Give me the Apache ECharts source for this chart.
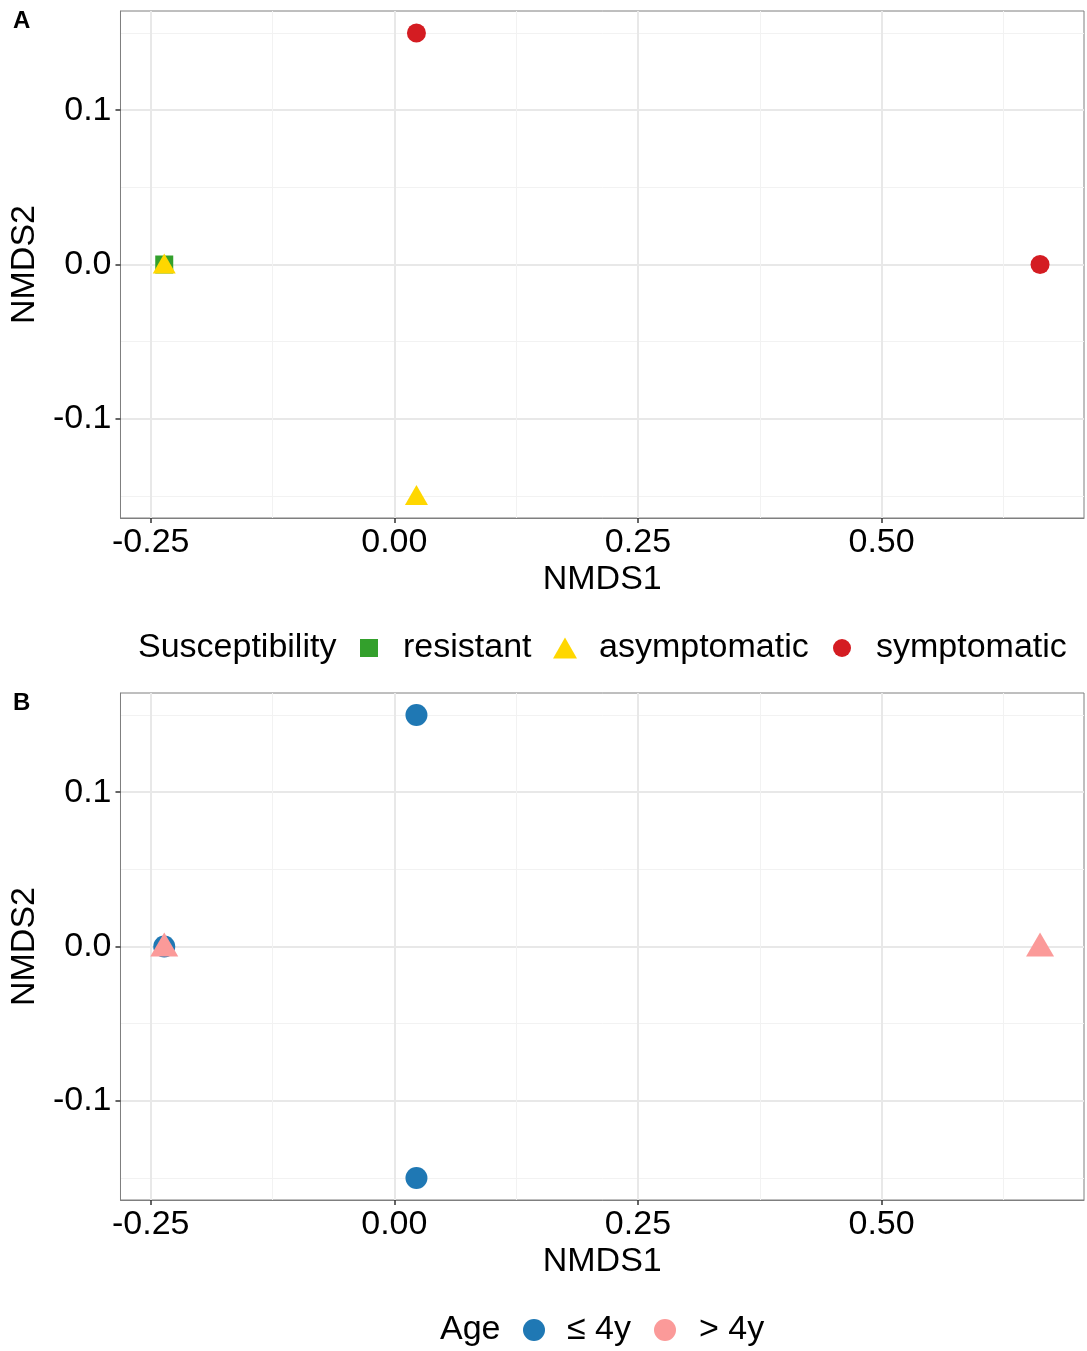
<!DOCTYPE html>
<html>
<head>
<meta charset="utf-8">
<script src="https://cdn.jsdelivr.net/npm/echarts@6/dist/echarts.min.js"></script>
<style>
html,body{margin:0;padding:0;background:#fff;}
#chart{width:1087px;height:1351px;}
</style>
</head>
<body>
<div id="chart"></div>
<script>
// ---- data ----
const xMajor = [-0.25, 0, 0.25, 0.5];
const xMajorLabels = ['-0.25', '0.00', '0.25', '0.50'];
const xMinor = [-0.125, 0.125, 0.375, 0.625];
const yMajor = [-0.1, 0, 0.1];
const yMajorLabels = ['-0.1', '0.0', '0.1'];
const yMinor = [-0.15, -0.05, 0.05, 0.15];

// Panel A: Susceptibility
const resistantA = [[-0.2361, 0.0]];
const asymptomaticA = [[-0.2361, 0.0], [0.0227, -0.15]];
const symptomaticA = [[0.0227, 0.15], [0.6626, 0.0]];

// Panel B: Age
const ageYoungB = [[0.0227, 0.15], [0.0227, -0.15], [-0.2361, 0.0]];
const ageOldB = [[-0.2361, 0.0], [0.6626, 0.0]];

const xRange = [-0.281, 0.7077];
const yRange = [-0.1643, 0.1643];

// ---- styles ----
const FONT = 'Liberation Sans, Arial, sans-serif';
const FS = 34;
const TXT = '#000000';
const BORDER = '#7f7f7f';
const C_RES = '#33a02c', C_ASY = '#ffd700', C_SYM = '#d41c22';
const C_YOUNG = '#1f78b4', C_OLD = '#fb9a99';

const chart = echarts.init(document.getElementById('chart'), null, {renderer: 'canvas'});

function xAxesFor(gi) {
  return [
    { // major
      type: 'value', gridIndex: gi, min: xRange[0], max: xRange[1],
      name: 'NMDS1', nameLocation: 'middle', nameGap: 45,
      nameTextStyle: {fontFamily: FONT, fontSize: FS, color: TXT},
      axisLine: {show: true, onZero: false, lineStyle: {color: BORDER, width: 1}},
      axisTick: {show: true, length: 5, customValues: xMajor, lineStyle: {color: '#333', width: 1.5}},
      axisLabel: {show: true, customValues: xMajor, margin: 8, fontFamily: FONT, fontSize: FS, color: TXT,
        formatter: v => { const i = xMajor.findIndex(t => Math.abs(t - v) < 1e-9); return i >= 0 ? xMajorLabels[i] : ''; }},
      splitLine: {show: true, lineStyle: {color: '#e8e8e8', width: 2}}
    },
    { // minor grid
      type: 'value', gridIndex: gi, min: xRange[0], max: xRange[1], position: 'bottom',
      axisLine: {show: false}, axisLabel: {show: false},
      axisTick: {show: false, customValues: xMinor},
      splitLine: {show: true, lineStyle: {color: '#f2f2f2', width: 1}}
    }
  ];
}
function yAxesFor(gi) {
  return [
    {
      type: 'value', gridIndex: gi, min: yRange[0], max: yRange[1],
      name: 'NMDS2', nameLocation: 'middle', nameGap: 74, nameRotate: 90,
      nameTextStyle: {fontFamily: FONT, fontSize: FS, color: TXT},
      axisLine: {show: true, onZero: false, lineStyle: {color: BORDER, width: 1}},
      axisTick: {show: true, length: 5, customValues: yMajor, lineStyle: {color: '#333', width: 1.5}},
      axisLabel: {show: true, customValues: yMajor, margin: 9, fontFamily: FONT, fontSize: FS, color: TXT,
        formatter: v => { const i = yMajor.findIndex(t => Math.abs(t - v) < 1e-9); return i >= 0 ? yMajorLabels[i] : ''; }},
      splitLine: {show: true, lineStyle: {color: '#e8e8e8', width: 2}}
    },
    {
      type: 'value', gridIndex: gi, min: yRange[0], max: yRange[1], position: 'left',
      axisLine: {show: false}, axisLabel: {show: false},
      axisTick: {show: false, customValues: yMinor},
      splitLine: {show: true, lineStyle: {color: '#f2f2f2', width: 1}}
    }
  ];
}

function legendItem(name, left, top, w, h, pad, icon) {
  return {
    data: [icon ? {name: name, icon: icon} : name], left: left, top: top, orient: 'horizontal', padding: 0,
    itemWidth: w, itemHeight: h, symbolKeepAspect: false, selectedMode: false,
    textStyle: {fontFamily: FONT, fontSize: FS, color: TXT, padding: [0, 0, 0, pad], lineHeight: 36}
  };
}

const option = {
  backgroundColor: '#ffffff',
  animation: false,
  grid: [
    {left: 120, top: 11, width: 964, height: 507, show: true, borderColor: BORDER, borderWidth: 1, backgroundColor: 'transparent', containLabel: false},
    {left: 120, top: 693, width: 964, height: 507, show: true, borderColor: BORDER, borderWidth: 1, backgroundColor: 'transparent', containLabel: false}
  ],
  xAxis: [...xAxesFor(0), ...xAxesFor(1)],
  yAxis: [...yAxesFor(0), ...yAxesFor(1)],
  legend: [
    legendItem('resistant', 360, 630, 18, 18, 20),
    legendItem('asymptomatic', 553, 630, 24, 21, 17),
    legendItem('symptomatic', 833, 630, 18, 18, 20),
    legendItem('≤ 4y', 523, 1312, 22, 22, 17, 'circle'),
    legendItem('> 4y', 654, 1312, 22, 22, 18, 'circle')
  ],
  graphic: [
    {type: 'text', left: 13, top: 9, style: {text: 'A', fontFamily: FONT, fontSize: 24, fontWeight: 'bold', fill: TXT}},
    {type: 'text', left: 13, top: 691, style: {text: 'B', fontFamily: FONT, fontSize: 24, fontWeight: 'bold', fill: TXT}},
    {type: 'text', left: 138, top: 630, style: {text: 'Susceptibility', fontFamily: FONT, fontSize: FS, fill: TXT, lineHeight: 36}},
    {type: 'text', left: 440, top: 1312, style: {text: 'Age', fontFamily: FONT, fontSize: FS, fill: TXT, lineHeight: 36}}
  ],
  series: [
    {name: 'resistant', type: 'scatter', xAxisIndex: 0, yAxisIndex: 0, data: resistantA,
      symbol: 'rect', symbolSize: 18, itemStyle: {color: C_RES, opacity: 1}, z: 3},
    {name: 'asymptomatic', type: 'scatter', xAxisIndex: 0, yAxisIndex: 0, data: asymptomaticA,
      symbol: 'triangle', symbolSize: [23, 20], symbolOffset: [0, -1], itemStyle: {color: C_ASY, opacity: 1}, z: 4},
    {name: 'symptomatic', type: 'scatter', xAxisIndex: 0, yAxisIndex: 0, data: symptomaticA,
      symbol: 'circle', symbolSize: 19, itemStyle: {color: C_SYM, opacity: 1}, z: 5},
    {name: '≤ 4y', type: 'scatter', xAxisIndex: 2, yAxisIndex: 2, data: ageYoungB,
      symbol: 'circle', symbolSize: 22, itemStyle: {color: C_YOUNG, opacity: 1}, z: 3},
    {name: '> 4y', type: 'scatter', xAxisIndex: 2, yAxisIndex: 2, data: ageOldB,
      symbol: 'triangle', symbolSize: [28, 24], symbolOffset: [0, -2], itemStyle: {color: C_OLD, opacity: 1}, z: 4}
  ]
};
chart.setOption(option);
</script>
</body>
</html>
